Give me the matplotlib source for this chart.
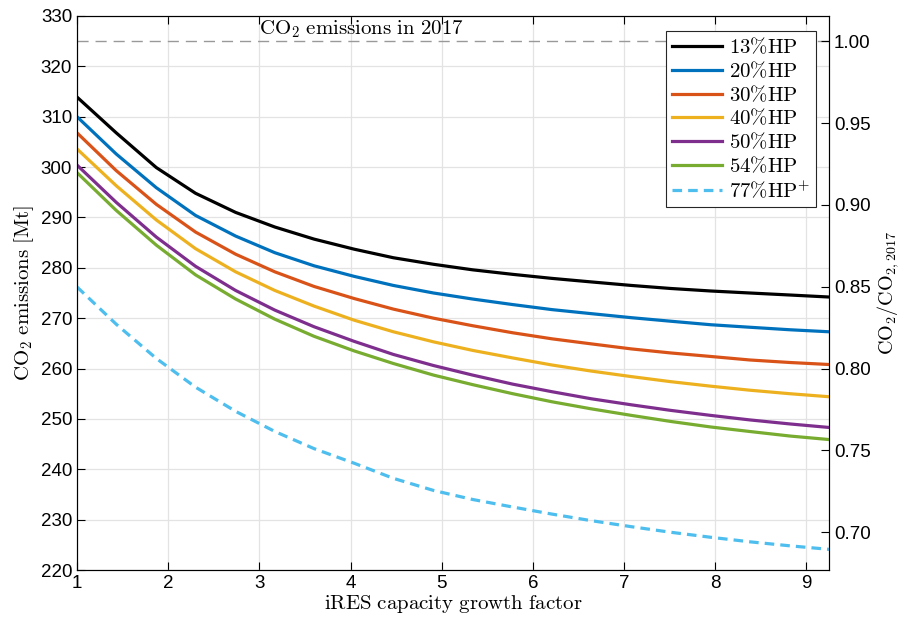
import numpy as np
import matplotlib
matplotlib.use("Agg")
import matplotlib.pyplot as plt

plt.rcParams['font.family'] = ['Liberation Sans', 'DejaVu Sans']
plt.rcParams['mathtext.fontset'] = 'cm'

# data
growth = [1, 1.43, 1.87, 2.3, 2.74, 3.17, 3.6, 4.04, 4.47, 4.91,
          5.34, 5.78, 6.21, 6.64, 7.08, 7.51, 7.95, 8.38, 8.82, 9.25]
hp13 = [313.9, 306.8, 299.9, 294.8, 291.0, 288.1, 285.7, 283.7, 282.0, 280.7,
        279.6, 278.7, 277.9, 277.2, 276.5, 275.9, 275.4, 275.0, 274.6, 274.2]
hp20 = [310.0, 302.6, 295.9, 290.4, 286.3, 283.0, 280.4, 278.3, 276.5, 275.0,
        273.8, 272.7, 271.7, 270.9, 270.1, 269.4, 268.7, 268.2, 267.7, 267.3]
hp30 = [306.8, 299.3, 292.6, 287.1, 282.7, 279.2, 276.3, 273.9, 271.8, 270.0,
        268.5, 267.1, 265.9, 264.9, 263.9, 263.1, 262.4, 261.7, 261.2, 260.8]
hp40 = [303.6, 296.3, 289.5, 283.8, 279.2, 275.5, 272.4, 269.6, 267.3, 265.3,
        263.6, 262.1, 260.7, 259.5, 258.4, 257.4, 256.5, 255.7, 255.0, 254.4]
hp50 = [300.4, 293.0, 286.1, 280.3, 275.5, 271.6, 268.3, 265.4, 262.8, 260.6,
        258.7, 256.9, 255.4, 254.0, 252.8, 251.7, 250.7, 249.8, 249.0, 248.3]
hp54 = [298.9, 291.4, 284.5, 278.6, 273.8, 269.8, 266.4, 263.5, 261.0, 258.7,
        256.8, 255.0, 253.4, 252.0, 250.7, 249.5, 248.4, 247.5, 246.6, 245.9]
hp77 = [276.2, 268.8, 262.0, 256.3, 251.5, 247.5, 244.1, 241.2, 238.2, 235.8,
        234.0, 232.5, 231.1, 229.8, 228.6, 227.5, 226.5, 225.6, 224.8, 224.1]
co2_2017 = 325

labels = [r'$\mathrm{13\%HP}$', r'$\mathrm{20\%HP}$', r'$\mathrm{30\%HP}$',
          r'$\mathrm{40\%HP}$', r'$\mathrm{50\%HP}$', r'$\mathrm{54\%HP}$',
          r'$\mathrm{77\%HP^{+}}$']
colors = ['black', '#0072BD', '#D95319', '#EDB120', '#7E2F8E', '#77AC30', '#4DBEEE']

fig = plt.figure(figsize=(9.04, 6.27), dpi=100)
ax = fig.add_axes([0.0852, 0.0909, 0.832, 0.8836])

ax.axhline(co2_2017, color='#999999', lw=1.0, ls=(0, (8, 5)), zorder=1)
ax.text(3.0, co2_2017 + 0.3, r'$\mathrm{CO_2\ emissions\ in\ 2017}$', fontsize=15,
        va='bottom', ha='left')

series = [hp13, hp20, hp30, hp40, hp50, hp54]
for s, c, l in zip(series, colors, labels):
    ax.plot(growth, s, color=c, lw=2.3, label=l, zorder=3)
ax.plot(growth, hp77, color=colors[6], lw=2.3, ls=(0, (3, 1.9)), label=labels[6], zorder=3)

ax.set_xlim(1, 9.25)
ax.set_ylim(220, 330)
ax.set_xticks(range(1, 10))
ax.set_yticks(range(220, 331, 10))
ax.grid(True, color='#e3e3e3', lw=0.9)
ax.set_axisbelow(True)
ax.tick_params(direction='in', length=6, labelsize=13.5, top=True, right=False)
for sp in ax.spines.values():
    sp.set_color('#262626')
ax.set_xlabel(r'$\mathrm{iRES\ capacity\ growth\ factor}$', fontsize=15, labelpad=1)
ax.set_ylabel(r'$\mathrm{CO_2\ emissions\ [Mt]}$', fontsize=15, labelpad=3)

ax2 = ax.twinx()
ax2.set_ylim(220 / co2_2017, 330 / co2_2017)
ax2.set_yticks([0.70, 0.75, 0.80, 0.85, 0.90, 0.95, 1.00])
ax2.set_yticklabels(['%.2f' % v for v in [0.70, 0.75, 0.80, 0.85, 0.90, 0.95, 1.00]])
ax2.tick_params(direction='in', length=6, labelsize=13.5)
ax2.set_ylabel(r'$\mathrm{CO_2/CO_{2,2017}}$', fontsize=14.5, labelpad=3)

leg = ax.legend(loc='upper right', bbox_to_anchor=(0.983, 0.973), fontsize=15,
                frameon=True, fancybox=False, edgecolor='#262626', framealpha=1,
                handlelength=2.4, handletextpad=0.3, labelspacing=0.15,
                borderpad=0.3, borderaxespad=0)
leg.get_frame().set_linewidth(0.8)

plt.savefig('out.png', dpi=100)
